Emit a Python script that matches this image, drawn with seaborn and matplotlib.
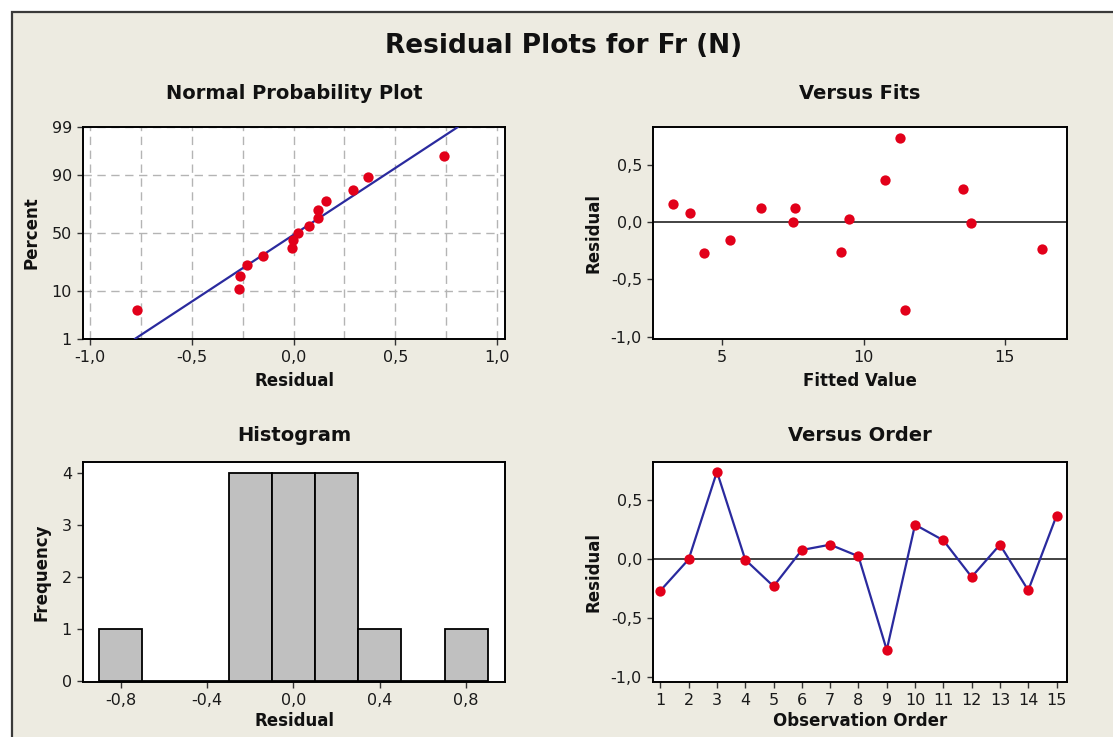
import numpy as np
import pandas as pd
import matplotlib
matplotlib.use("Agg")
import matplotlib.pyplot as plt
from matplotlib.patches import Rectangle
from matplotlib.ticker import FuncFormatter
import seaborn as sns
from statistics import NormalDist

sns.set_theme(style="ticks")
plt.rcParams["font.family"] = ["DejaVu Sans"]

# ==============================
# DATA
# ==============================
obs_order = list(range(1, 16))
residuals = [-0.268, -0.003, 0.738, -0.006, -0.231, 0.076, 0.121, 0.023,
             -0.769, 0.290, 0.158, -0.152, 0.121, -0.265, 0.366]
fitted = [4.36, 7.52, 11.28, 13.79, 16.30, 3.85, 6.36, 9.47,
          11.48, 13.52, 3.26, 5.27, 7.59, 9.21, 10.75]
npp_percent = [4.5, 11.0, 17.5, 24.0, 30.5, 37.0, 43.5, 50.0,
               56.5, 63.0, 69.5, 76.0, 82.5, 89.0, 95.5]
pct_ticks = [1, 10, 50, 90, 99]

df = pd.DataFrame({"order": obs_order, "resid": residuals, "fit": fitted})

BG = "#EDEBE1"
RED = "#E2001A"
BLUE = "#2A2A9E"
W, H = 1113, 737

def comma(v, pos):
    return f"{v + 0.0:.1f}".replace(".", ",")

def style_ax(ax):
    ax.set_facecolor("white")
    for s in ax.spines.values():
        s.set_color("black")
        s.set_linewidth(1.4)
    ax.tick_params(which="major", direction="out", length=4, width=1,
                   color="#333333", labelsize=11.5, labelcolor="#1a1a1a", pad=4)
    ax.tick_params(which="minor", length=0)

def px_axes(fig, x0, y0, x1, y1):
    return fig.add_axes([x0 / W, (H - y1) / H, (x1 - x0) / W, (y1 - y0) / H])

fig = plt.figure(figsize=(W / 100, H / 100), dpi=100)
fig.patch.set_facecolor("white")
fig.add_artist(Rectangle((12 / W, -0.02), 1.05, 1 - 12 / H + 0.02,
                         transform=fig.transFigure, facecolor=BG,
                         edgecolor="#3a3a3a", linewidth=1.6, zorder=-5))

fig.text(0.506, 1 - 46 / H, "Residual Plots for Fr (N)", ha="center", va="center",
         fontsize=19, fontweight="bold", color="#111111")

LABEL = dict(fontsize=12, fontweight="bold", color="#111111")
TITLE_TOP = dict(fontsize=14, fontweight="bold", color="#111111", pad=20)
TITLE_BOT = dict(fontsize=14, fontweight="bold", color="#111111", pad=15)

# ==============================
# 1 - NORMAL PROBABILITY PLOT
# ==============================
ax1 = px_axes(fig, 83, 127, 505, 339)
style_ax(ax1)
nd = NormalDist()
npp = pd.DataFrame({"resid": sorted(residuals),
                    "z": [nd.inv_cdf(p / 100) for p in npp_percent]})
mu, sigma = np.mean(residuals), np.std(residuals, ddof=1)
z_lo, z_hi = nd.inv_cdf(0.01), nd.inv_cdf(0.99)
line = pd.DataFrame({"x": [mu + sigma * z_lo, mu + sigma * z_hi], "z": [z_lo, z_hi]})

sns.lineplot(data=line, x="x", y="z", ax=ax1, color=BLUE, linewidth=1.6, zorder=3)
sns.scatterplot(data=npp, x="resid", y="z", ax=ax1, color=RED, s=55,
                linewidth=0, zorder=4)
ax1.set_xlim(-1.035, 1.039)
ax1.set_ylim(z_lo, z_hi)
ax1.set_xticks([-1.0, -0.5, 0.0, 0.5, 1.0])
ax1.set_xticks([-0.75, -0.25, 0.25, 0.75], minor=True)
ax1.xaxis.set_major_formatter(FuncFormatter(comma))
ax1.set_yticks([nd.inv_cdf(p / 100) for p in pct_ticks])
ax1.set_yticklabels([str(p) for p in pct_ticks])
ax1.grid(True, which="both", linestyle=(0, (6, 4)), color="#b4b4b4", linewidth=1)
ax1.set_axisbelow(True)
ax1.set_xlabel("Residual", labelpad=5, **LABEL)
ax1.set_ylabel("Percent", labelpad=8, **LABEL)
ax1.set_title("Normal Probability Plot", **TITLE_TOP)

# ==============================
# 2 - VERSUS FITS
# ==============================
ax2 = px_axes(fig, 653, 127, 1067, 339)
style_ax(ax2)
ax2.axhline(0, color="#222222", linewidth=1.2, zorder=2)
sns.scatterplot(data=df, x="fit", y="resid", ax=ax2, color=RED, s=55,
                linewidth=0, zorder=4)
ax2.set_xlim(2.55, 17.2)
ax2.set_ylim(-1.02, 0.83)
ax2.set_xticks([5, 10, 15])
ax2.set_yticks([-1.0, -0.5, 0.0, 0.5])
ax2.yaxis.set_major_formatter(FuncFormatter(comma))
ax2.set_xlabel("Fitted Value", labelpad=5, **LABEL)
ax2.set_ylabel("Residual", labelpad=6, **LABEL)
ax2.set_title("Versus Fits", **TITLE_TOP)

# ==============================
# 3 - HISTOGRAM
# ==============================
ax3 = px_axes(fig, 83, 462, 505, 682)
style_ax(ax3)
sns.histplot(x=residuals, bins=np.arange(-0.9, 0.95, 0.2), ax=ax3,
             color="#C0C0C0", edgecolor="black", linewidth=1.3, alpha=1)
ax3.set_xlim(-0.975, 0.98)
ax3.set_ylim(-0.02, 4.21)
ax3.set_xticks([-0.8, -0.4, 0.0, 0.4, 0.8])
ax3.set_yticks([0, 1, 2, 3, 4])
ax3.xaxis.set_major_formatter(FuncFormatter(comma))
ax3.set_xlabel("Residual", labelpad=3, **LABEL)
ax3.set_ylabel("Frequency", labelpad=8, **LABEL)
ax3.set_title("Histogram", **TITLE_BOT)

# ==============================
# 4 - VERSUS ORDER
# ==============================
ax4 = px_axes(fig, 653, 462, 1067, 682)
style_ax(ax4)
ax4.axhline(0, color="#222222", linewidth=1.2, zorder=2)
sns.lineplot(data=df, x="order", y="resid", ax=ax4, color=BLUE, linewidth=1.6, zorder=3)
sns.scatterplot(data=df, x="order", y="resid", ax=ax4, color=RED, s=55,
                linewidth=0, zorder=4)
ax4.set_xlim(0.74, 15.37)
ax4.set_ylim(-1.04, 0.82)
ax4.set_xticks(obs_order)
ax4.set_yticks([-1.0, -0.5, 0.0, 0.5])
ax4.yaxis.set_major_formatter(FuncFormatter(comma))
ax4.set_xlabel("Observation Order", labelpad=3, **LABEL)
ax4.set_ylabel("Residual", labelpad=6, **LABEL)
ax4.set_title("Versus Order", **TITLE_BOT)

plt.savefig("out.png", dpi=100)
